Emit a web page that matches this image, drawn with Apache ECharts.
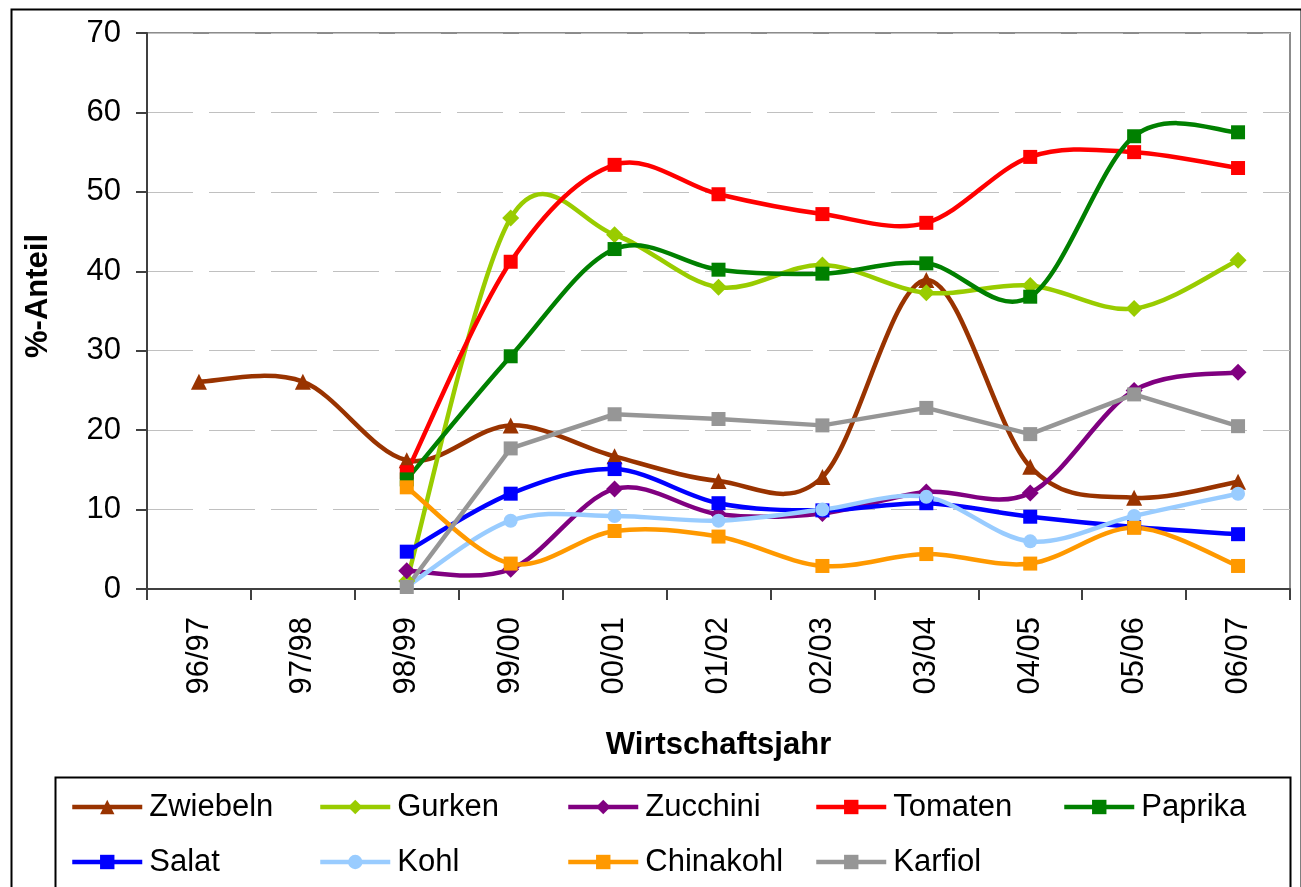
<!DOCTYPE html>
<html>
<head>
<meta charset="utf-8">
<script src="https://cdn.jsdelivr.net/npm/echarts@6/dist/echarts.min.js"></script>
<style>
  html, body { margin: 0; padding: 0; background: #fff; }
  #chart { width: 1301px; height: 887px; }
</style>
</head>
<body>
<div id="chart"></div>
<script>
const years = ['96/97', '97/98', '98/99', '99/00', '00/01', '01/02', '02/03', '03/04', '04/05', '05/06', '06/07'];

const zwiebeln  = [26.1, 26.1, 16.2, 20.6, 16.7, 13.6, 14.1, 38.9, 15.4, 11.5, 13.5];
const gurken    = [null, null, 1.0, 46.7, 44.6, 38.0, 40.8, 37.3, 38.2, 35.3, 41.4];
const zucchini  = [null, null, 2.3, 2.5, 12.6, 9.4, 9.5, 12.2, 12.1, 25.0, 27.3];
const tomaten   = [null, null, 14.7, 41.2, 53.4, 49.7, 47.2, 46.1, 54.4, 55.0, 53.0];
const paprika   = [null, null, 13.8, 29.3, 42.8, 40.2, 39.7, 41.0, 36.8, 57.0, 57.5];
const salat     = [null, null, 4.7, 12.0, 15.1, 10.8, 9.9, 10.8, 9.1, 7.8, 6.9];
const kohl      = [null, null, 0.3, 8.6, 9.2, 8.6, 10.0, 11.6, 6.0, 9.2, 12.0];
const chinakohl = [null, null, 12.8, 3.2, 7.3, 6.6, 2.9, 4.4, 3.2, 7.7, 2.9];
const karfiol   = [null, null, 0.25, 17.7, 22.0, 21.4, 20.6, 22.8, 19.5, 24.5, 20.5];

const yTicks = [0, 10, 20, 30, 40, 50, 60, 70];

const FONT = '"Liberation Sans", Arial, sans-serif';
const LW = 4.5;

// Excel-style spline (catmull-rom), drawn through the axis scales
function curve(name, data, color, smooth) {
  return {
    type: 'custom',
    name: name + '_linie',
    data: [0],
    silent: true,
    animation: false,
    renderItem: function (params, api) {
      const runs = [];
      let run = [];
      data.forEach((v, i) => {
        if (v == null) { if (run.length) runs.push(run); run = []; }
        else run.push(api.coord([i, v]));
      });
      if (run.length) runs.push(run);

      const children = [];
      runs.forEach(r => {
        for (let i = 0; i < r.length - 1; i++) {
          const p0 = r[i - 1] || r[i], p1 = r[i], p2 = r[i + 1], p3 = r[i + 2] || r[i + 1];
          const k = smooth ? 1 / 6 : 0;
          children.push({
            type: 'bezierCurve',
            shape: {
              x1: p1[0], y1: p1[1], x2: p2[0], y2: p2[1],
              cpx1: p1[0] + (p2[0] - p0[0]) * k, cpy1: p1[1] + (p2[1] - p0[1]) * k,
              cpx2: p2[0] - (p3[0] - p1[0]) * k, cpy2: p2[1] - (p3[1] - p1[1]) * k
            },
            style: { fill: null, stroke: color, lineWidth: LW, lineCap: 'round' }
          });
        }
      });
      return { type: 'group', children: children };
    }
  };
}

// markers + legend entry (own line hidden, the curve above draws it)
function marks(name, data, color, symbol, size) {
  return {
    name: name,
    type: 'line',
    data: data,
    symbol: symbol,
    symbolSize: size,
    showAllSymbol: true,
    lineStyle: { color: color, width: LW, opacity: 0 },
    itemStyle: { color: color },
    emphasis: { disabled: true },
    animation: false
  };
}

const defs = [
  ['Zwiebeln', zwiebeln, '#993300', 'triangle', 16, true],
  ['Gurken', gurken, '#99CC00', 'diamond', 17, true],
  ['Zucchini', zucchini, '#800080', 'diamond', 17, true],
  ['Tomaten', tomaten, '#FF0000', 'rect', 14, true],
  ['Paprika', paprika, '#008000', 'rect', 14, true],
  ['Salat', salat, '#0000FF', 'rect', 14, true],
  ['Kohl', kohl, '#99CCFF', 'circle', 14, true],
  ['Chinakohl', chinakohl, '#FF9900', 'rect', 14, true],
  ['Karfiol', karfiol, '#969696', 'rect', 14, false]
];
const series = [];
defs.forEach(d => {
  series.push(curve(d[0], d[1], d[2], d[5]));
  series.push(marks(d[0], d[1], d[2], d[3], d[4]));
});

// legend laid out in five columns like the original
const legendCols = [
  ['Zwiebeln', 'Salat'],
  ['Gurken', 'Kohl'],
  ['Zucchini', 'Chinakohl'],
  ['Tomaten', 'Karfiol'],
  ['Paprika']
];
const legends = legendCols.map((col, i) => ({
  data: col,
  orient: 'vertical',
  left: 70 + i * 248,
  top: 790,
  padding: 0,
  itemWidth: 70,
  itemHeight: 18,
  itemGap: 21,
  selectedMode: false,
  lineStyle: { opacity: 1, width: LW },
  textStyle: { fontFamily: FONT, fontSize: 31, lineHeight: 34, color: '#000', padding: [0, 0, 0, 2] }
}));

const chart = echarts.init(document.getElementById('chart'));
chart.setOption({
  animation: false,
  backgroundColor: '#fff',
  textStyle: { fontFamily: FONT },
  grid: {
    left: 147, top: 33, right: 11, bottom: 298,
    show: true, borderColor: '#8c8c8c', borderWidth: 2, backgroundColor: 'transparent'
  },
  legend: legends,
  xAxis: {
    type: 'category',
    data: years,
    boundaryGap: true,
    name: 'Wirtschaftsjahr',
    nameLocation: 'middle',
    nameGap: 141,
    nameTextStyle: { fontFamily: FONT, fontSize: 31, fontWeight: 'bold', color: '#000' },
    axisLine: { lineStyle: { color: '#404040', width: 2 } },
    axisTick: { show: true, length: 11, lineStyle: { color: '#404040', width: 2 } },
    axisLabel: { rotate: 90, margin: 28, fontFamily: FONT, fontSize: 31, color: '#000' },
    splitLine: { show: false }
  },
  yAxis: {
    type: 'value',
    min: yTicks[0],
    max: yTicks[yTicks.length - 1],
    interval: 10,
    axisLine: { show: true, lineStyle: { color: '#404040', width: 2 } },
    axisTick: { show: true, length: 11, lineStyle: { color: '#404040', width: 2 } },
    axisLabel: { margin: 26, fontFamily: FONT, fontSize: 31, color: '#000' },
    splitLine: { show: true, lineStyle: { color: '#c0c0c0', width: 1, type: [46, 16] } }
  },
  graphic: [
    { type: 'rect', left: 9, top: 7, shape: { width: 1290, height: 900 }, style: { fill: 'none', stroke: '#000', lineWidth: 2 }, silent: true, z: -1 },
    { type: 'rect', left: 53, top: 775, shape: { width: 1235, height: 130 }, style: { fill: 'none', stroke: '#000', lineWidth: 2 }, silent: true, z: -1 },
    { type: 'text', x: 38, y: 296, rotation: Math.PI / 2,
      style: { text: '%-Anteil', font: 'bold 31px ' + FONT, fill: '#000', textAlign: 'center', textVerticalAlign: 'middle' } }
  ],
  series: series
});
</script>
</body>
</html>
